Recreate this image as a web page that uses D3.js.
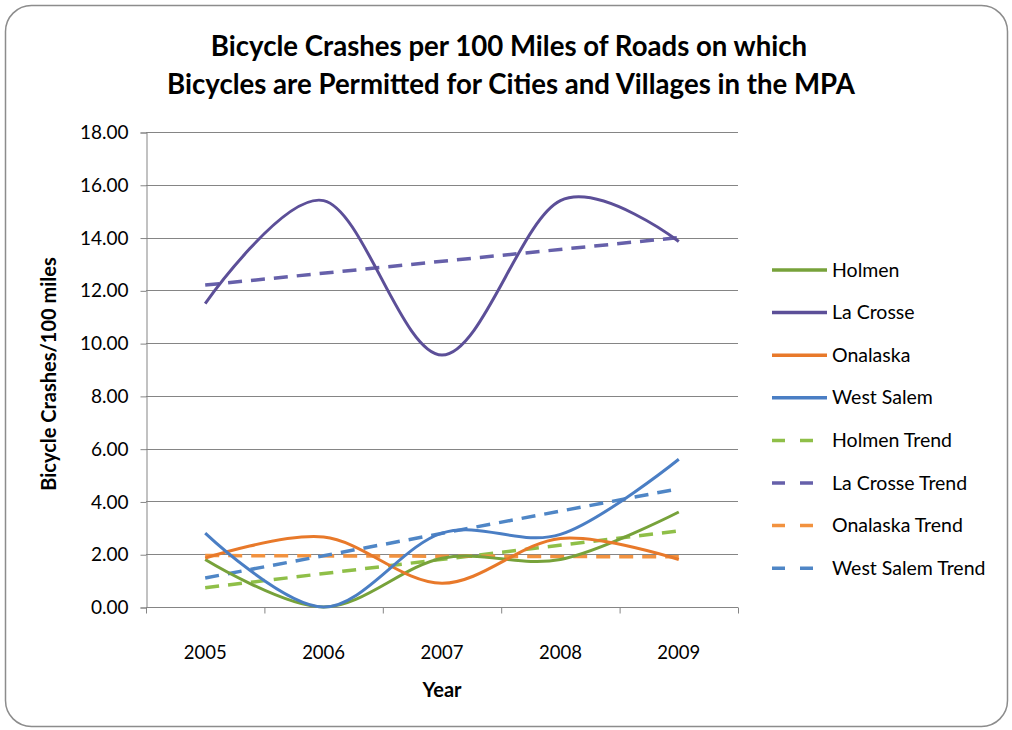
<!DOCTYPE html>
<html>
<head>
<meta charset="utf-8">
<script src="https://cdn.jsdelivr.net/npm/d3@7"></script>
<style>
  body { margin: 0; background: #fff; }
  svg text { font-family: Lato, "Open Sans", sans-serif; fill: #000; }
</style>
</head>
<body>
<svg id="chart" width="1012" height="730"></svg>
<script>
// data
var years = ["2005", "2006", "2007", "2008", "2009"];
var holmen = [1.80, 0.00, 1.85, 1.80, 3.60];
var laCrosse = [11.50, 15.40, 9.55, 15.40, 13.85];
var onalaska = [1.85, 2.65, 0.90, 2.60, 1.80];
var westSalem = [2.80, 0.00, 2.80, 2.75, 5.60];
// trend lines (start / end values at 2005 and 2009)
var holmenTrend = [0.73, 2.88];
var laCrosseTrend = [12.20, 14.00];
var onalaskaTrend = [1.95, 1.90];
var westSalemTrend = [1.10, 4.48];
var yTicks = [0, 2, 4, 6, 8, 10, 12, 14, 16, 18];

var series = [
  {name: "Holmen", values: holmen, color: "#77a23a", dash: false},
  {name: "La Crosse", values: laCrosse, color: "#5c4f98", dash: false},
  {name: "Onalaska", values: onalaska, color: "#e8792a", dash: false},
  {name: "West Salem", values: westSalem, color: "#4a7ec4", dash: false},
  {name: "Holmen Trend", values: holmenTrend, color: "#8fbf48", dash: true},
  {name: "La Crosse Trend", values: laCrosseTrend, color: "#6660aa", dash: true},
  {name: "Onalaska Trend", values: onalaskaTrend, color: "#f2923f", dash: true},
  {name: "West Salem Trend", values: westSalemTrend, color: "#4f86c6", dash: true}
];

var svg = d3.select("#chart");

// chart border
svg.append("rect")
  .attr("x", 5.5).attr("y", 5.5)
  .attr("width", 1002).attr("height", 721)
  .attr("rx", 26).attr("ry", 26)
  .attr("fill", "#fff")
  .attr("stroke", "#8c8c8c")
  .attr("stroke-width", 1.5);

// title
svg.append("text")
  .attr("x", 509).attr("y", 56)
  .attr("text-anchor", "middle")
  .attr("font-size", 27.6).attr("font-weight", "bold")
  .text("Bicycle Crashes per 100 Miles of Roads on which");
svg.append("text")
  .attr("x", 511).attr("y", 94)
  .attr("text-anchor", "middle")
  .attr("font-size", 27.6).attr("font-weight", "bold")
  .text("Bicycles are Permitted for Cities and Villages in the MPA");

var plotLeft = 146, plotRight = 738, plotTop = 132, plotBottom = 607;

var x = d3.scaleBand().domain(years).range([plotLeft, plotRight]).padding(0);
var y = d3.scaleLinear().domain([0, 18]).range([plotBottom, plotTop]);
var cx = function (yr) { return x(yr) + x.bandwidth() / 2; };

// gridlines
svg.append("g")
  .selectAll("line")
  .data(yTicks.slice(1))
  .enter().append("line")
  .attr("x1", plotLeft).attr("x2", plotRight)
  .attr("y1", function (d) { return Math.round(y(d)) + 0.5; })
  .attr("y2", function (d) { return Math.round(y(d)) + 0.5; })
  .attr("stroke", "#858585").attr("stroke-width", 1);

// y axis
var yAxis = svg.append("g")
  .attr("transform", "translate(" + (plotLeft + 0.5) + ",0.5)")
  .call(d3.axisLeft(y).tickValues(yTicks).tickSize(6).tickPadding(12)
    .tickFormat(d3.format(".2f")));
yAxis.select(".domain").attr("stroke", "#858585");
yAxis.selectAll(".tick line").attr("stroke", "#858585");
yAxis.selectAll(".tick text").attr("font-size", 19).attr("fill", "#000")
  .attr("font-family", "Lato, sans-serif");

// x axis with ticks between categories
var xAxis = svg.append("g")
  .attr("transform", "translate(0," + (plotBottom + 0.5) + ")");
xAxis.append("line")
  .attr("x1", plotLeft).attr("x2", plotRight)
  .attr("stroke", "#858585");
xAxis.selectAll(".bound")
  .data(years.concat(["end"]))
  .enter().append("line")
  .attr("class", "bound")
  .attr("x1", function (d, i) { return (i < years.length ? x(d) : plotRight) + 0.5; })
  .attr("x2", function (d, i) { return (i < years.length ? x(d) : plotRight) + 0.5; })
  .attr("y1", 0).attr("y2", 6)
  .attr("stroke", "#858585");
xAxis.selectAll(".lbl")
  .data(years)
  .enter().append("text")
  .attr("class", "lbl")
  .attr("x", function (d) { return cx(d); })
  .attr("y", 51)
  .attr("text-anchor", "middle")
  .attr("font-size", 18.5)
  .text(function (d) { return d; });

// axis titles
svg.append("text")
  .attr("x", 442).attr("y", 697)
  .attr("text-anchor", "middle")
  .attr("font-size", 20).attr("font-weight", "bold")
  .text("Year");
svg.append("text")
  .attr("transform", "translate(56,374) rotate(-90)")
  .attr("text-anchor", "middle")
  .attr("font-size", 20).attr("font-weight", "bold")
  .text("Bicycle Crashes/100 miles");

// lines
var smooth = d3.line()
  .x(function (d) { return cx(d.yr); })
  .y(function (d) { return y(d.v); })
  .curve(d3.curveCardinal.tension(0));

var straight = d3.line()
  .x(function (d) { return cx(d.yr); })
  .y(function (d) { return y(d.v); });

var plot = svg.append("g");

series.filter(function (s) { return s.dash; }).forEach(function (s) {
  var pts = [{yr: years[0], v: s.values[0]}, {yr: years[years.length - 1], v: s.values[1]}];
  plot.append("path")
    .attr("d", straight(pts))
    .attr("fill", "none")
    .attr("stroke", s.color)
    .attr("stroke-width", 3.5)
    .attr("stroke-dasharray", "14,9");
});

series.filter(function (s) { return !s.dash; }).forEach(function (s) {
  var pts = s.values.map(function (v, i) { return {yr: years[i], v: v}; });
  plot.append("path")
    .attr("d", smooth(pts))
    .attr("fill", "none")
    .attr("stroke", s.color)
    .attr("stroke-width", 3)
    .attr("stroke-linejoin", "round");
});

// legend
var legend = svg.append("g").attr("transform", "translate(772,270)");
var rows = legend.selectAll("g")
  .data(series)
  .enter().append("g")
  .attr("transform", function (d, i) { return "translate(0," + (i * 42.6) + ")"; });
rows.append("line")
  .attr("x1", 0).attr("x2", function (d) { return d.dash ? 46 : 55; })
  .attr("y1", 0).attr("y2", 0)
  .attr("stroke", function (d) { return d.color; })
  .attr("stroke-width", 3.5)
  .attr("stroke-dasharray", function (d) { return d.dash ? "13,15" : null; });
rows.append("text")
  .attr("x", 60)
  .attr("y", 6.5)
  .attr("font-size", 19.5)
  .text(function (d) { return d.name; });
</script>
</body>
</html>
